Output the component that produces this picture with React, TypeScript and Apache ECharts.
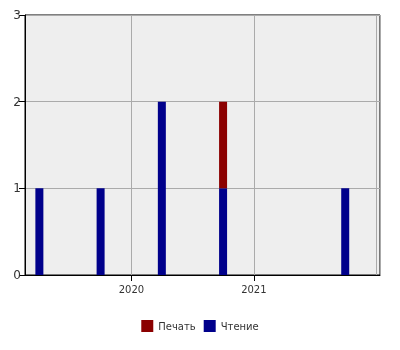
import React, { useEffect, useRef } from "react";
import * as echarts from "echarts";

const dates = ["2019-04-01", "2019-10-01", "2020-04-01", "2020-10-01", "2021-10-01"];
const readingValues = [1, 1, 2, 1, 1];
const printValues = [0, 0, 0, 1, 0];
const seriesNames = ["Печать", "Чтение"];
const axisMin = "2019-03-01";
const axisMax = "2022-01-01";

const t = (d: string) => new Date(d + "T00:00:00Z").getTime();

export default function App() {
  const ref = useRef<HTMLDivElement>(null);
  useEffect(() => {
    if (!ref.current) return;
    const chart = echarts.init(ref.current, null, { renderer: "svg" });
    const font = "DejaVu Sans";
    const minT = t(axisMin);
    const maxT = t(axisMax);
    chart.setOption({
      animation: false,
      textStyle: { fontFamily: font },
      legend: {
        data: seriesNames,
        top: 315,
        left: "center",
        itemWidth: 12,
        itemHeight: 12,
        itemGap: 8,
        icon: "rect",
        textStyle: { fontFamily: font, fontSize: 10, color: "#333" },
      },
      grid: {
        left: 25,
        top: 15,
        right: 20,
        bottom: 75,
        show: true,
        backgroundColor: "#eeeeee",
        borderColor: "#000",
        borderWidth: 1,
      },
      graphic: [
        {
          type: "rect",
          right: 16,
          top: 276,
          shape: { width: 8, height: 8 },
          style: { fill: "#ffffff" },
          z: 100,
          silent: true,
        },
      ],
      xAxis: {
        type: "time",
        min: minT,
        max: maxT,
        minInterval: 365 * 86400000,
        axisLine: { lineStyle: { color: "#000" } },
        axisTick: { show: true, length: 6, lineStyle: { color: "#000" } },
        axisLabel: {
          formatter: (v: number) => (v >= maxT || v <= minT ? "" : String(new Date(v).getUTCFullYear())),
          fontFamily: font,
          fontSize: 10,
          color: "#333",
          margin: 9,
        },
        splitLine: { show: true, lineStyle: { color: "#aaaaaa" } },
      },
      yAxis: {
        type: "value",
        min: 0,
        max: 3,
        interval: 1,
        axisLine: { show: true, lineStyle: { color: "#000" } },
        axisTick: { show: true, length: 6, lineStyle: { color: "#000" } },
        axisLabel: { fontFamily: font, fontSize: 12, color: "#333", margin: 4 },
        splitLine: { show: true, lineStyle: { color: "#aaaaaa" } },
      },
      series: [
        {
          name: seriesNames[1],
          type: "bar",
          stack: "total",
          barWidth: 8,
          itemStyle: { color: "#00008b" },
          data: dates.map((d, i) => [t(d), readingValues[i]]),
        },
        {
          name: seriesNames[0],
          type: "bar",
          stack: "total",
          barWidth: 8,
          itemStyle: { color: "#8b0000" },
          data: dates.map((d, i) => [t(d), printValues[i]]),
        },
      ],
    });
    return () => chart.dispose();
  }, []);
  return <div ref={ref} style={{ position: "fixed", left: 0, top: 0, width: 400, height: 350 }} />;
}
